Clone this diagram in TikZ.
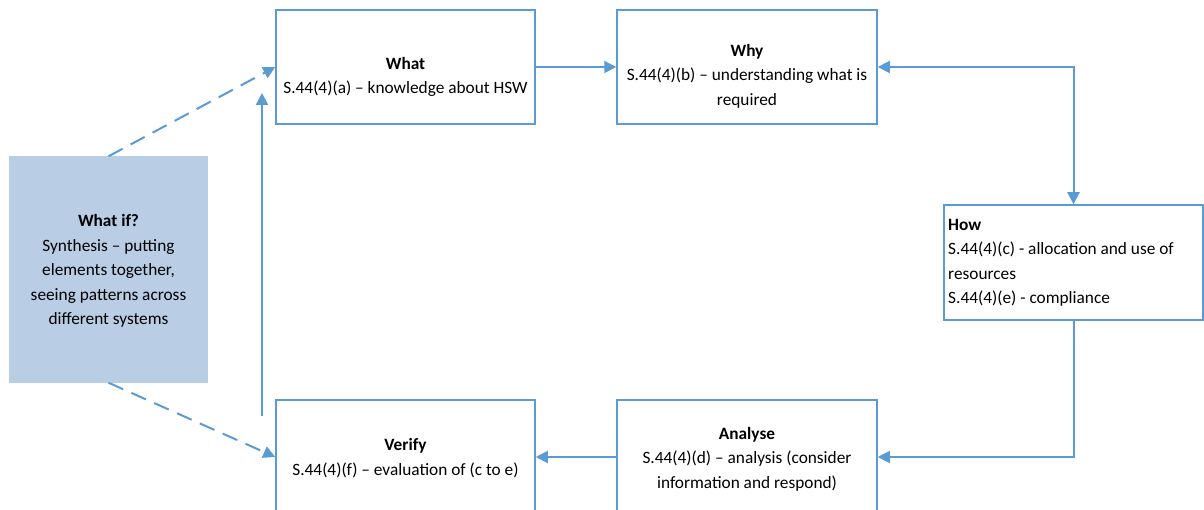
\documentclass[tikz,border=0pt]{standalone}
\usepackage{fontspec}
\setmainfont{Carlito}
\usetikzlibrary{arrows.meta}
\definecolor{lineblue}{RGB}{91,155,213}
\definecolor{fillblue}{RGB}{185,205,229}
\begin{document}
\begin{tikzpicture}[x=1pt,y=-1pt,
  boxnode/.style={draw=lineblue,line width=1.5pt,fill=white,minimum width=#1,inner sep=0pt},
  txt/.style={font=\fontsize{17.3}{24.5}\selectfont,align=center,inner sep=0pt,text=black},
  conn/.style={draw=lineblue,line width=2pt,-{Triangle[length=12pt,width=12pt]}},
  dconn/.style={conn,dash pattern=on 16pt off 9pt}]
\useasboundingbox (0,0) rectangle (1204,510);
% boxes
\node[boxnode=259pt,minimum height=114pt] (what) at (405.5,67) {};
\node[boxnode=260pt,minimum height=114pt] (why) at (747,67) {};
\node[boxnode=259pt,minimum height=115pt] (how) at (1073.5,262.5) {};
\node[boxnode=260pt,minimum height=114pt] (analyse) at (747,457) {};
\node[boxnode=259pt,minimum height=114pt] (verify) at (405.5,457) {};
\node[fill=fillblue,minimum width=199pt,minimum height=226pt,inner sep=0pt] (whatif) at (108.5,269.5) {};
% texts
\node[txt] (whatT) at (405.5,77) {\textbf{What}\\S.44(4)(a) – knowledge about HSW};
\node[txt] (whyT) at (747,76) {\textbf{Why}\\S.44(4)(b) – understanding what is\\required};
\node[txt,align=left,anchor=west] (howT) at (948,263) {\textbf{How}\\S.44(4)(c) - allocation and use of\\resources\\S.44(4)(e) - compliance};
\node[txt] (analyseT) at (747,459) {\textbf{Analyse}\\S.44(4)(d) – analysis (consider\\information and respond)};
\node[txt] (verifyT) at (405.5,458) {\textbf{Verify}\\S.44(4)(f) – evaluation of (c to e)};
\node[txt] (whatifT) at (108.5,271) {\textbf{What if?}\\Synthesis – putting\\elements together,\\seeing patterns across\\different systems};
% connectors
\draw[conn] (what.east) -- (why.west);
\draw[conn,{Triangle[length=12pt,width=12pt]}-{Triangle[length=12pt,width=12pt]}] (why.east) -| (how.north);
\draw[conn] (how.south) |- (analyse.east);
\draw[conn] (analyse.west) -- (verify.east);
\coordinate (vstart) at (262,416);
\coordinate (vend) at (262,93);
\draw[conn] (vstart) -- (vend);
\draw[dconn] (whatif.north) -- (what.west);
\draw[dconn] (whatif.south) -- (verify.west);
\end{tikzpicture}
\end{document}
